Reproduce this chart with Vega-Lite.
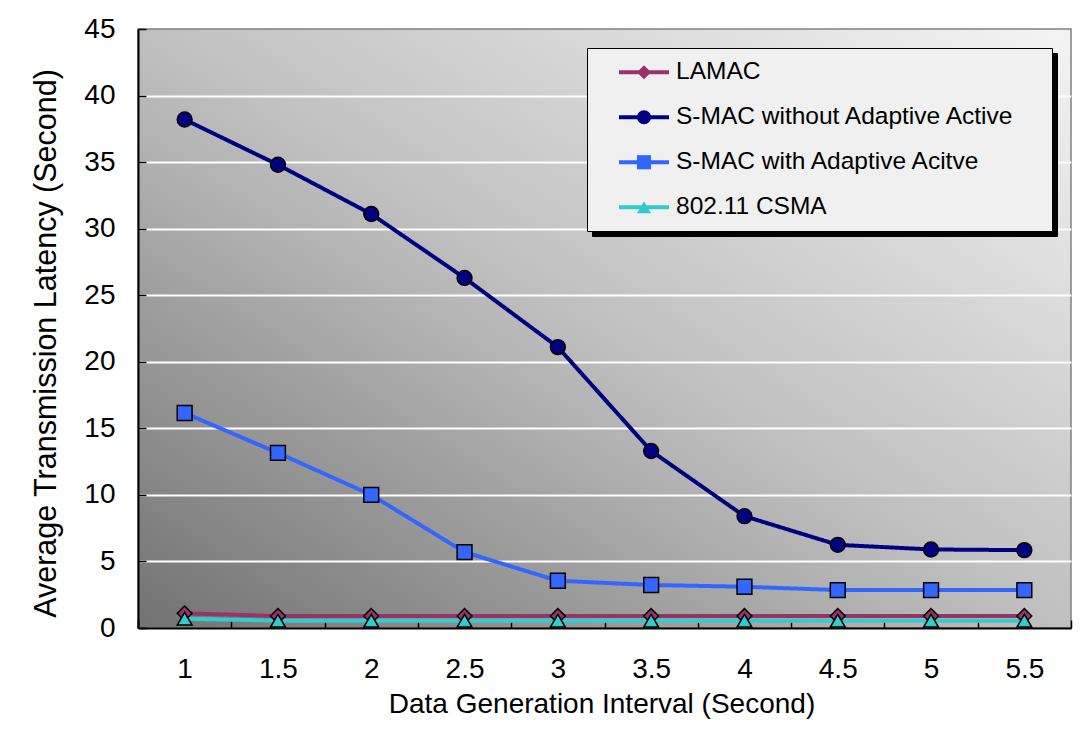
{
  "$schema": "https://vega.github.io/schema/vega-lite/v6.json",
  "width": 933,
  "height": 599,
  "autosize": "none",
  "padding": {"left": 138, "top": 29, "right": 19, "bottom": 101},
  "background": "white",
  "config": {
    "font": "Liberation Sans",
    "view": {
      "stroke": "#808080",
      "strokeWidth": 1.5,
      "fill": {
        "gradient": "linear",
        "x1": 0, "y1": 1, "x2": 1, "y2": 0,
        "stops": [
          {"offset": 0, "color": "#727272"},
          {"offset": 0.5, "color": "#c0c0c0"},
          {"offset": 1, "color": "#f4f4f4"}
        ]
      }
    },
    "axis": {
      "labelFont": "Liberation Sans",
      "titleFont": "Liberation Sans",
      "labelColor": "black",
      "titleColor": "black",
      "titleFontWeight": "normal",
      "tickColor": "black",
      "domainColor": "black"
    }
  },
  "data": {
    "values": [
      {"series": "LAMAC", "interval": 1, "latency": 1.1},
      {"series": "LAMAC", "interval": 1.5, "latency": 0.9},
      {"series": "LAMAC", "interval": 2, "latency": 0.9},
      {"series": "LAMAC", "interval": 2.5, "latency": 0.9},
      {"series": "LAMAC", "interval": 3, "latency": 0.9},
      {"series": "LAMAC", "interval": 3.5, "latency": 0.9},
      {"series": "LAMAC", "interval": 4, "latency": 0.9},
      {"series": "LAMAC", "interval": 4.5, "latency": 0.9},
      {"series": "LAMAC", "interval": 5, "latency": 0.9},
      {"series": "LAMAC", "interval": 5.5, "latency": 0.9},
      {"series": "S-MAC without Adaptive Active", "interval": 1, "latency": 38.2},
      {"series": "S-MAC without Adaptive Active", "interval": 1.5, "latency": 34.8},
      {"series": "S-MAC without Adaptive Active", "interval": 2, "latency": 31.1},
      {"series": "S-MAC without Adaptive Active", "interval": 2.5, "latency": 26.3},
      {"series": "S-MAC without Adaptive Active", "interval": 3, "latency": 21.1},
      {"series": "S-MAC without Adaptive Active", "interval": 3.5, "latency": 13.3},
      {"series": "S-MAC without Adaptive Active", "interval": 4, "latency": 8.4},
      {"series": "S-MAC without Adaptive Active", "interval": 4.5, "latency": 6.25},
      {"series": "S-MAC without Adaptive Active", "interval": 5, "latency": 5.9},
      {"series": "S-MAC without Adaptive Active", "interval": 5.5, "latency": 5.85},
      {"series": "S-MAC with Adaptive Acitve", "interval": 1, "latency": 16.15},
      {"series": "S-MAC with Adaptive Acitve", "interval": 1.5, "latency": 13.15},
      {"series": "S-MAC with Adaptive Acitve", "interval": 2, "latency": 10.0},
      {"series": "S-MAC with Adaptive Acitve", "interval": 2.5, "latency": 5.7},
      {"series": "S-MAC with Adaptive Acitve", "interval": 3, "latency": 3.55},
      {"series": "S-MAC with Adaptive Acitve", "interval": 3.5, "latency": 3.23},
      {"series": "S-MAC with Adaptive Acitve", "interval": 4, "latency": 3.1},
      {"series": "S-MAC with Adaptive Acitve", "interval": 4.5, "latency": 2.85},
      {"series": "S-MAC with Adaptive Acitve", "interval": 5, "latency": 2.85},
      {"series": "S-MAC with Adaptive Acitve", "interval": 5.5, "latency": 2.85},
      {"series": "802.11 CSMA", "interval": 1, "latency": 0.7},
      {"series": "802.11 CSMA", "interval": 1.5, "latency": 0.55},
      {"series": "802.11 CSMA", "interval": 2, "latency": 0.55},
      {"series": "802.11 CSMA", "interval": 2.5, "latency": 0.55},
      {"series": "802.11 CSMA", "interval": 3, "latency": 0.55},
      {"series": "802.11 CSMA", "interval": 3.5, "latency": 0.55},
      {"series": "802.11 CSMA", "interval": 4, "latency": 0.55},
      {"series": "802.11 CSMA", "interval": 4.5, "latency": 0.55},
      {"series": "802.11 CSMA", "interval": 5, "latency": 0.55},
      {"series": "802.11 CSMA", "interval": 5.5, "latency": 0.55}
    ]
  },
  "resolve": {"axis": {"x": "independent"}},
  "layer": [
    {
      "mark": {"type": "line", "strokeWidth": 4},
      "encoding": {
        "x": {
          "field": "interval",
          "type": "quantitative",
          "scale": {"domain": [0.75, 5.75], "nice": false, "zero": false},
          "axis": {
            "orient": "bottom",
            "values": [1, 1.5, 2, 2.5, 3, 3.5, 4, 4.5, 5, 5.5],
            "labelExpr": "datum.value + ''",
            "ticks": false,
            "grid": false,
            "domain": true,
            "domainWidth": 2,
            "labelFontSize": 28,
            "labelPadding": 27,
            "labelFlush": false,
            "title": "Data Generation Interval (Second)",
            "titleFontSize": 28,
            "titleX": 463.5,
            "titleY": 84,
            "titleBaseline": "alphabetic",
            "titleAlign": "center"
          }
        },
        "y": {
          "field": "latency",
          "type": "quantitative",
          "scale": {"domain": [0, 45], "nice": false},
          "axis": {
            "values": [0, 5, 10, 15, 20, 25, 30, 35, 40, 45],
            "grid": true,
            "gridColor": {"condition": {"test": "datum.value === 0 || datum.value === 45", "value": "rgba(0,0,0,0)"}, "value": "white"},
            "gridWidth": 2,
            "ticks": true,
            "tickSize": -8,
            "tickWidth": 1.5,
            "domainWidth": 2,
            "labelFontSize": 28,
            "labelPadding": 31,
            "labelFlush": false,
            "title": "Average Transmission Latency (Second)",
            "titleFontSize": 30.5,
            "titleAngle": -90,
            "titleX": -83,
            "titleY": 314,
            "titleBaseline": "alphabetic",
            "titleAlign": "center"
          }
        },
        "stroke": {
          "field": "series",
          "type": "nominal",
          "scale": {
            "range": ["#33CCCC", "#993366", "#3366FF", "#000080"]
          },
          "legend": {
            "orient": "none",
            "legendX": 454,
            "legendY": 24,
            "title": ".",
            "titleOrient": "right",
            "titleFontSize": 2,
            "titleColor": "rgba(0,0,0,0)",
            "titlePadding": 24,
            "padding": 12,
            "fillColor": "black",
            "strokeColor": "black",
            "symbolType": "M-2.5,0L2.5,0",
            "symbolSize": 400,
            "symbolStrokeWidth": 4,
            "symbolOpacity": 0,
            "symbolOffset": 32.75,
            "labelOffset": 19.75,
            "labelFontSize": 24.5,
            "labelFont": "Liberation Sans",
            "labelColor": "rgba(0,0,0,0)",
            "labelLimit": 600,
            "rowPadding": 20
          }
        },
        "strokeDash": {
          "field": "series",
          "type": "nominal",
          "sort": ["LAMAC", "S-MAC without Adaptive Active", "S-MAC with Adaptive Acitve", "802.11 CSMA"],
          "scale": {
            "range": [[1, 0], [1, 0], [1, 0], [1, 0]]
          },
          "legend": {
            "orient": "none",
            "legendX": 449,
            "legendY": 19,
            "title": ".",
            "titleOrient": "right",
            "titleFontSize": 2,
            "titleColor": "rgba(0,0,0,0)",
            "titlePadding": 24,
            "padding": 12,
            "fillColor": "#f0f0f0",
            "strokeColor": "black",
            "symbolType": "M-2.5,0L2.5,0",
            "symbolSize": 400,
            "symbolStrokeWidth": 4,
            "symbolOffset": 32.75,
            "labelOffset": 19.75,
            "labelFontSize": 24.5,
            "labelFont": "Liberation Sans",
            "labelColor": "black",
            "labelLimit": 600,
            "rowPadding": 20,
            "encode": {
              "symbols": {
                "update": {
                  "stroke": {"scale": "stroke", "field": "value"},
                  "strokeDash": {"value": [1, 0]}
                }
              }
            }
          }
        }
      }
    },
    {
      "mark": {"type": "point", "filled": true, "stroke": "black", "strokeWidth": 1.5, "size": 220, "opacity": 1},
      "encoding": {
        "x": {
          "field": "interval",
          "type": "quantitative",
          "scale": {"domain": [0.75, 5.75], "nice": false, "zero": false},
          "axis": {
            "orient": "bottom",
            "values": [0.75, 1.25, 1.75, 2.25, 2.75, 3.25, 3.75, 4.25, 4.75, 5.25, 5.75],
            "labels": false,
            "ticks": true,
            "tickSize": -8,
            "tickWidth": 1.5,
            "domain": false,
            "grid": false,
            "title": null
          }
        },
        "y": {"field": "latency", "type": "quantitative", "scale": {"domain": [0, 45], "nice": false}},
        "fill": {
          "field": "series",
          "type": "nominal",
          "scale": {
            "domain": ["LAMAC", "S-MAC without Adaptive Active", "S-MAC with Adaptive Acitve", "802.11 CSMA"],
            "range": ["#993366", "#000080", "#3366FF", "#33CCCC"]
          },
          "legend": {
            "orient": "none",
            "legendX": 449,
            "legendY": 19,
            "title": ".",
            "titleOrient": "right",
            "titleFontSize": 2,
            "titleColor": "rgba(0,0,0,0)",
            "titlePadding": 24,
            "padding": 12,
            "fillColor": "rgba(0,0,0,0)",
            "strokeColor": "rgba(0,0,0,0)",
            "symbolSize": 200,
            "symbolStrokeWidth": 1.5,
            "symbolStrokeColor": "black",
            "symbolOffset": 32.75,
            "labelOffset": 19.75,
            "labelFontSize": 24.5,
            "labelFont": "Liberation Sans",
            "labelColor": "rgba(0,0,0,0)",
            "labelLimit": 600,
            "rowPadding": 20,
            "encode": {
              "symbols": {
                "stroke": {"value": "black"},
                "strokeWidth": {"value": 1.5},
                "size": {"value": 200}
              }
            }
          }
        },
        "shape": {
          "field": "series",
          "type": "nominal",
          "scale": {
            "domain": ["LAMAC", "S-MAC without Adaptive Active", "S-MAC with Adaptive Acitve", "802.11 CSMA"],
            "range": ["diamond", "circle", "square", "triangle-up"]
          },
          "legend": {
            "orient": "none",
            "legendX": 449,
            "legendY": 19,
            "title": ".",
            "titleOrient": "right",
            "titleFontSize": 2,
            "titleColor": "rgba(0,0,0,0)",
            "titlePadding": 24,
            "padding": 12,
            "fillColor": "rgba(0,0,0,0)",
            "strokeColor": "rgba(0,0,0,0)",
            "symbolSize": 200,
            "symbolStrokeWidth": 1.5,
            "symbolStrokeColor": "black",
            "symbolOffset": 32.75,
            "labelOffset": 19.75,
            "labelFontSize": 24.5,
            "labelFont": "Liberation Sans",
            "labelColor": "rgba(0,0,0,0)",
            "labelLimit": 600,
            "rowPadding": 20,
            "encode": {
              "symbols": {
                "stroke": {"value": "black"},
                "strokeWidth": {"value": 1.5},
                "size": {"value": 200}
              }
            }
          }
        }
      }
    }
  ]
}
